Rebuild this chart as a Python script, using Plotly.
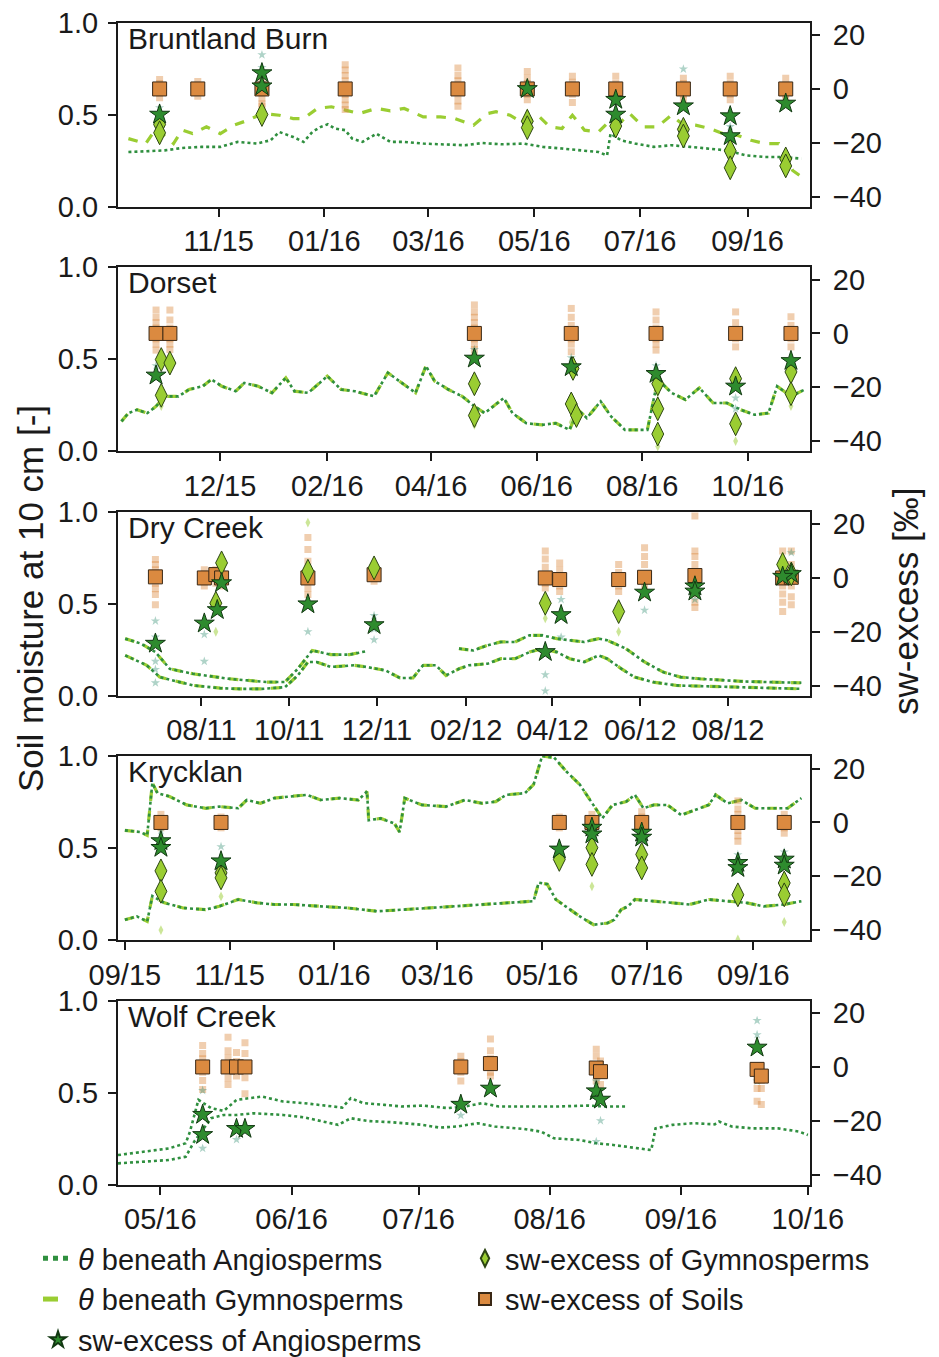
import pandas as pd
import plotly.graph_objects as go

# ---------------------------------------------------------------- data
# Bruntland Burn (line days counted from BB_origin)
BB_origin = "2015-09-01"
BB_theta_angio_days = [9, 19, 30, 40, 51, 62, 72, 83, 91, 96, 104, 110, 115, 120, 124, 128, 134, 138, 144, 152,
                       160, 168, 179, 189, 203, 213, 224, 237, 248, 259, 269, 280, 285, 287, 293, 301, 312, 322,
                       333, 344, 354, 365, 376, 386, 397]
BB_theta_angio = [0.296, 0.302, 0.305, 0.318, 0.324, 0.324, 0.351, 0.342, 0.360, 0.405, 0.378, 0.351, 0.405, 0.433,
                  0.447, 0.424, 0.415, 0.369, 0.351, 0.396, 0.351, 0.351, 0.342, 0.338, 0.333, 0.345, 0.338, 0.342,
                  0.324, 0.315, 0.305, 0.296, 0.278, 0.396, 0.360, 0.342, 0.324, 0.333, 0.324, 0.315, 0.305, 0.278,
                  0.269, 0.269, 0.260]
BB_theta_gymno_days = [9, 19, 25, 35, 40, 46, 54, 62, 70, 78, 86, 96, 104, 110, 118, 126, 134, 142, 152, 160, 168,
                       179, 189, 197, 208, 216, 221, 229, 237, 245, 252, 259, 265, 272, 280, 285, 293, 298, 306, 314,
                       322, 328, 336, 344, 352, 360, 368, 376, 384, 392, 400]
BB_theta_gymno = [0.369, 0.342, 0.424, 0.342, 0.415, 0.396, 0.433, 0.396, 0.442, 0.469, 0.505, 0.496, 0.478, 0.478,
                  0.533, 0.542, 0.524, 0.505, 0.533, 0.520, 0.533, 0.487, 0.487, 0.478, 0.442, 0.505, 0.515, 0.496,
                  0.451, 0.496, 0.433, 0.424, 0.496, 0.415, 0.405, 0.451, 0.460, 0.505, 0.433, 0.433, 0.496, 0.451,
                  0.442, 0.424, 0.396, 0.387, 0.360, 0.342, 0.342, 0.196, 0.142]
BB_campaigns = ["2015-09-28", "2015-10-20", "2015-11-26", "2016-01-13", "2016-03-18", "2016-04-27", "2016-05-23",
                "2016-06-17", "2016-07-26", "2016-08-22", "2016-09-23"]
BB_soil = [0, 0, 0, 0, 0, 0, 0, 0, 0, 0, 0]
BB_soil_ind = [[3.5, 2.0, 0.5, -1.5, -3.3], [2.8, 1.2, -1.0, -2.7], [2.8, -1.5, -3.5, -5.5, -6.4],
               [9, 7, 5, 3, -2, -4, -6, -7.6], [7.8, 5, 3, -2, -4.5, -6.4], [6.5, 4, 2, -2, -4], [4.7, 2.5, -2, -5],
               [4.7, 2, -2, -4], [4, 2, -2, -4], [4.7, 2, -2, -4], [4, 1.5, -2, -4]]
BB_angio_dates = ["2015-09-28", "2015-11-26", "2015-11-26", "2016-04-27", "2016-06-17", "2016-06-17", "2016-07-26",
                  "2016-08-22", "2016-08-22", "2016-09-23"]
BB_angio = [-9.5, 5.9, 1.0, 0.0, -4.0, -9.5, -6.4, -10.1, -17.5, -5.4]
BB_gymno_dates = ["2015-09-28", "2015-09-28", "2015-11-26", "2016-04-27", "2016-04-27", "2016-06-17", "2016-07-26",
                  "2016-07-26", "2016-08-22", "2016-08-22", "2016-09-23", "2016-09-23"]
BB_gymno = [-13.2, -16.3, -9.5, -12.0, -14.4, -13.8, -15.0, -17.5, -23.0, -29.3, -26.0, -28.6]
BB_angio_ind_dates = ["2015-11-26", "2015-11-26", "2016-07-26", "2016-06-17", "2016-08-22", "2015-09-28"]
BB_angio_ind = [12.7, 8.0, 7.4, -2.0, -14.0, -7.0]
BB_gymno_ind_dates = ["2015-09-28", "2016-04-27", "2016-06-17", "2016-08-22", "2016-09-23", "2016-09-23", "2015-11-26"]
BB_gymno_ind = [-11.0, -9.0, -16.0, -32.0, -24.0, -31.0, -7.0]

# Dorset
DO_origin = "2015-10-01"
DO_theta_days = [4, 8, 13, 19, 24, 29, 37, 43, 51, 56, 62, 70, 75, 83, 91, 99, 104, 112, 123, 131, 139, 150, 158,
                 166, 174, 180, 185, 193, 201, 208, 214, 225, 230, 238, 247, 255, 263, 268, 273, 281, 287, 295, 308,
                 314, 322, 330, 338, 346, 354, 362, 370, 378, 383, 391, 399]
DO_theta = [0.161, 0.206, 0.224, 0.206, 0.243, 0.297, 0.297, 0.334, 0.352, 0.389, 0.352, 0.325, 0.370, 0.352, 0.316,
            0.398, 0.325, 0.316, 0.407, 0.334, 0.325, 0.297, 0.425, 0.370, 0.316, 0.462, 0.380, 0.334, 0.297, 0.243,
            0.206, 0.288, 0.206, 0.151, 0.142, 0.151, 0.115, 0.224, 0.179, 0.270, 0.188, 0.115, 0.115, 0.389, 0.316,
            0.279, 0.343, 0.261, 0.261, 0.224, 0.197, 0.206, 0.352, 0.297, 0.334]
DO_campaigns = ["2015-10-25", "2015-11-02", "2016-04-26", "2016-06-21", "2016-08-09", "2016-09-24", "2016-10-26"]
DO_soil = [0, 0, 0, 0, 0, 0, 0]
DO_soil_ind = [[8.7, 6, 4, 2, -2, -4, -6.2], [8.7, 5, 2, -2, -4, -6], [10.6, 8, 6, 4, 2, -2, -4, -6, -8.7],
               [9.3, 6, 3, -2, -4, -6.8], [8, 5, 2, -2, -4, -6.2], [8, 4, -2, -5], [6.2, 3, -2, -5]]
DO_angio_dates = ["2015-10-25", "2016-04-26", "2016-06-21", "2016-08-09", "2016-09-24", "2016-10-26"]
DO_angio = [-15.6, -9.3, -12.5, -15.0, -19.7, -10.2]
DO_gymno_dates = ["2015-10-28", "2015-10-28", "2015-11-02", "2016-04-26", "2016-04-26", "2016-06-22", "2016-06-21",
                  "2016-06-24", "2016-08-10", "2016-08-10", "2016-08-10", "2016-09-24", "2016-09-24", "2016-10-26",
                  "2016-10-26"]
DO_gymno = [-9.7, -23.0, -11.0, -18.7, -30.5, -13.0, -26.2, -30.5, -18.7, -28.0, -37.4, -16.8, -33.6, -14.3, -22.4]
DO_angio_ind_dates = ["2015-10-25", "2016-04-26", "2016-06-21", "2016-08-09", "2016-09-24", "2016-09-24"]
DO_angio_ind = [-12.0, -6.0, -9.0, -12.0, -24.0, -28.0]
DO_gymno_ind_dates = ["2015-10-28", "2016-04-26", "2016-06-21", "2016-08-10", "2016-09-24", "2016-10-26",
                      "2016-08-10"]
DO_gymno_ind = [-27.0, -34.0, -33.0, -42.0, -40.0, -27.0, -22.0]

# Dry Creek
DC_origin = "2011-06-01"
DC_theta_upper_days = [8, 19, 29, 39, 55, 71, 80, 93, 106, 119, 128, 138, 151, 164, 175, 200, 240, 250, 260, 269,
                       279, 289, 298, 308, 317, 327, 337, 343, 356, 369, 382, 394, 407, 423, 439, 455, 478]
DC_theta_upper = [0.309, 0.282, 0.236, 0.145, 0.118, 0.100, 0.091, 0.082, 0.073, 0.073, 0.145, 0.245, 0.222, 0.222,
                  0.240, None, 0.255, 0.245, 0.273, 0.291, 0.291, 0.327, 0.327, 0.309, 0.300, 0.291, 0.309, 0.300,
                  0.255, 0.182, 0.127, 0.100, 0.091, 0.082, 0.076, 0.073, 0.069]
DC_theta_lower_days = [8, 23, 32, 55, 74, 87, 103, 119, 128, 135, 141, 151, 167, 176, 189, 199, 208, 215, 224, 231,
                       240, 247, 260, 269, 279, 289, 298, 308, 317, 327, 337, 343, 353, 362, 375, 391, 407, 439, 478]
DC_theta_lower = [0.218, 0.164, 0.100, 0.055, 0.040, 0.036, 0.036, 0.045, 0.109, 0.182, 0.182, 0.155, 0.164, 0.155,
                  0.136, 0.095, 0.095, 0.164, 0.164, 0.109, 0.145, 0.164, 0.173, 0.200, 0.200, 0.236, 0.255, 0.236,
                  0.200, 0.182, 0.218, 0.200, 0.145, 0.100, 0.073, 0.055, 0.051, 0.045, 0.036]
DC_campaigns = ["2011-06-30", "2011-08-03", "2011-08-11", "2011-08-15", "2011-10-14", "2011-11-29", "2012-03-27",
                "2012-04-06", "2012-05-17", "2012-06-04", "2012-07-09", "2012-09-08", "2012-09-14"]
DC_soil = [0.4, 0.0, 1.25, 0.0, 0.0, 1.2, 0.0, -0.6, -0.6, 0.25, 0.9, 0.0, 0.25]
DC_soil_ind = [[6.9, 5, 3, -2, -4, -6.2, -10], [3, 1.5, -1.5, -3], [3, 1, -2], [3, 1.5, -1.5, -3],
               [15, 10.6, 6.2, -3.75, -6.2, -10], [3, -1.2], [10, 7, 4, -2, -3.75], [5.6, 3, -3, -5], [5, 2, -3, -5],
               [11.25, 8, 5, -3, -6.25], [23, 10, 8, 5, -3, -6, -9, -11], [10, 6, 3, -3, -6, -9, -12.5],
               [10, 5, -3, -7, -10]]
DC_angio_dates = ["2011-06-30", "2011-08-03", "2011-08-12", "2011-08-15", "2011-10-14", "2011-11-29", "2012-03-27",
                  "2012-04-07", "2012-06-04", "2012-07-09", "2012-07-09", "2012-09-14", "2012-09-08"]
DC_angio = [-24.4, -16.9, -11.9, -1.9, -9.75, -17.5, -27.5, -13.75, -5.4, -3.1, -5.0, 1.5, 0.5]
DC_gymno_dates = ["2011-08-11", "2011-08-15", "2011-10-14", "2011-11-29", "2012-03-27", "2012-05-17", "2012-09-08",
                  "2012-09-14"]
DC_gymno = [-9.4, 5.6, 2.5, 3.75, -9.4, -12.5, 5.0, 1.5]
DC_angio_ind_dates = ["2011-06-30", "2011-06-30", "2011-06-30", "2011-06-30", "2011-06-30", "2011-08-03",
                      "2011-08-03", "2011-10-14", "2011-11-29", "2011-11-29", "2011-11-29", "2012-03-27",
                      "2012-03-27", "2012-04-07", "2012-04-07", "2012-06-04", "2012-07-09", "2012-09-14"]
DC_angio_ind = [-16, -22, -31, -34, -39, -21, -31, -20, -14, -19, -23, -36, -42, -8, -22, -12, -8, 9.4]
DC_gymno_ind_dates = ["2011-10-14", "2011-08-11", "2012-05-17", "2012-03-27", "2012-09-08"]
DC_gymno_ind = [20.6, -20.0, -20.0, -15.0, 8.0]

# Krycklan
KR_origin = "2015-09-01"
KR_theta_upper_days = [0, 9, 13, 16, 19, 26, 36, 47, 55, 66, 71, 79, 87, 98, 106, 114, 125, 136, 141, 142, 149, 157,
                       160, 163, 173, 187, 198, 208, 216, 222, 233, 238, 243, 250, 257, 265, 273, 278, 284, 292, 297,
                       302, 308, 316, 324, 332, 340, 344, 351, 359, 367, 378, 386, 394]
KR_theta_upper = [0.596, 0.587, 0.569, 0.853, 0.798, 0.780, 0.734, 0.716, 0.725, 0.716, 0.761, 0.743, 0.771, 0.780,
                  0.789, 0.761, 0.771, 0.761, 0.807, 0.651, 0.661, 0.633, 0.587, 0.771, 0.734, 0.725, 0.761, 0.743,
                  0.752, 0.789, 0.798, 0.844, 1.000, 0.991, 0.917, 0.844, 0.734, 0.661, 0.734, 0.752, 0.789, 0.716,
                  0.734, 0.734, 0.679, 0.706, 0.734, 0.789, 0.743, 0.761, 0.716, 0.716, 0.716, 0.771]
KR_theta_lower_days = [0, 7, 13, 16, 23, 34, 47, 55, 66, 77, 87, 98, 114, 130, 147, 163, 179, 195, 211, 222, 238,
                       241, 246, 251, 259, 265, 273, 281, 285, 289, 293, 297, 308, 319, 329, 340, 351, 362, 372, 384,
                       394]
KR_theta_lower = [0.110, 0.128, 0.101, 0.239, 0.202, 0.174, 0.165, 0.183, 0.220, 0.202, 0.193, 0.193, 0.183, 0.174,
                  0.156, 0.165, 0.174, 0.183, 0.193, 0.202, 0.211, 0.312, 0.303, 0.220, 0.165, 0.128, 0.083, 0.092,
                  0.110, 0.165, 0.183, 0.220, 0.211, 0.202, 0.193, 0.220, 0.211, 0.202, 0.183, 0.193, 0.211]
KR_campaigns = ["2015-09-22", "2015-10-27", "2016-05-11", "2016-05-30", "2016-06-28", "2016-08-23", "2016-09-19"]
KR_soil = [0, 0, 0, 0, 0, 0, 0]
KR_soil_ind = [[3, 1.5, -2], [2, -2], [2, -2], [3, -2], [4, 2, -3], [8, 5, 3, -3, -5, -7], [3, -2, -4]]
KR_angio_dates = ["2015-09-22", "2015-09-22", "2015-10-27", "2016-05-11", "2016-05-30", "2016-05-30", "2016-06-28",
                  "2016-06-28", "2016-08-23", "2016-08-23", "2016-09-19", "2016-09-19"]
KR_angio = [-6.9, -9.4, -14.4, -10.0, -1.9, -4.4, -3.75, -5.6, -15.0, -16.9, -13.75, -16.0]
KR_gymno_dates = ["2015-09-22", "2015-09-22", "2015-10-27", "2015-10-27", "2016-05-11", "2016-05-30", "2016-05-30",
                  "2016-06-28", "2016-06-28", "2016-08-23", "2016-09-19", "2016-09-19"]
KR_gymno = [-18.0, -25.6, -18.75, -20.6, -13.75, -9.4, -15.6, -11.9, -16.9, -26.9, -22.5, -26.9]
KR_angio_ind_dates = ["2015-09-22", "2015-10-27", "2016-08-23", "2016-09-19", "2016-06-28"]
KR_angio_ind = [-3.0, -9.0, -12.0, -11.0, -1.0]
KR_gymno_ind_dates = ["2015-09-22", "2015-10-27", "2016-05-30", "2016-08-23", "2016-09-19"]
KR_gymno_ind = [-40.0, -27.5, -23.75, -43.5, -37.0]

# Wolf Creek
WC_origin = "2016-04-01"
WC_theta_upper_days = [20, 26, 32, 36, 37, 39, 42, 45, 48, 54, 59, 64, 70, 73, 75, 78, 83, 87, 92, 98, 102, 106, 110,
                       116, 124, 131, 135, 140]
WC_theta_upper = [0.160, 0.178, 0.196, 0.224, 0.287, 0.460, 0.415, 0.400, 0.460, 0.478, 0.451, 0.442, 0.424, 0.418,
                  0.469, 0.442, 0.433, 0.424, 0.429, 0.415, 0.424, 0.442, 0.424, 0.424, 0.424, 0.429, 0.424, 0.424]
WC_theta_lower_days = [20, 26, 32, 36, 38, 42, 45, 48, 52, 59, 64, 72, 75, 79, 85, 92, 96, 100, 105, 109, 116, 120,
                       123, 129, 133, 137, 142, 146, 147, 151, 156, 161, 162, 165, 170, 176, 181, 183]
WC_theta_lower = [0.115, 0.124, 0.133, 0.151, 0.233, 0.360, 0.378, 0.378, 0.387, 0.378, 0.365, 0.324, 0.360, 0.345,
                  0.338, 0.324, 0.309, 0.315, 0.333, 0.315, 0.302, 0.287, 0.251, 0.242, 0.224, 0.215, 0.200, 0.187,
                  0.305, 0.324, 0.333, 0.327, 0.342, 0.315, 0.305, 0.305, 0.287, 0.269]
WC_campaigns = ["2016-05-11", "2016-05-17", "2016-05-19", "2016-05-21", "2016-07-11", "2016-07-18", "2016-08-12",
                "2016-08-13", "2016-09-19", "2016-09-20"]
WC_soil = [0.0, 0.0, 0.0, 0.0, 0.0, 1.25, -0.4, -1.75, -0.9, -3.4]
WC_soil_ind = [[8, 5, 3, -2, -5, -8.4], [11, 6, 3.5, -4, -6.5], [5.4, 2, -3.4], [9, 5, -4, -10], [4, 2, -2, -5.25],
               [10.4, 6, 3, -2, -3.4], [6.6, 4, -2, -5.25], [2.25, -3, -6.5], [-1.5, -5, -8, -12.75], [-5, -8, -14]]
WC_angio_dates = ["2016-05-11", "2016-05-11", "2016-05-19", "2016-05-21", "2016-07-11", "2016-07-18", "2016-08-12",
                  "2016-08-13", "2016-09-19"]
WC_angio = [-17.75, -25.25, -23.0, -23.0, -14.0, -8.0, -9.0, -12.1, 7.25]
WC_angio_ind_dates = ["2016-05-11", "2016-05-11", "2016-05-19", "2016-08-12", "2016-08-12", "2016-08-13",
                      "2016-09-19", "2016-09-19", "2016-09-19", "2016-09-19", "2016-07-11"]
WC_angio_ind = [-8.75, -30.25, -27.0, -27.75, -5.25, -20.0, 17.25, 12.0, -1.5, -5.25, -18.0]

# axis settings
SITE_NAMES = ["Bruntland Burn", "Dorset", "Dry Creek", "Krycklan", "Wolf Creek"]
X_RANGES = [["2015-09-04", "2016-10-07"], ["2015-10-03", "2016-11-06"], ["2011-06-04", "2012-09-27"],
            ["2015-08-28", "2016-10-04"], ["2016-04-21", "2016-10-01 12:00"]]
X_TICK0 = ["2015-11-01", "2015-12-01", "2011-08-01", "2015-09-01", "2016-05-01"]
X_DTICK = ["M2", "M2", "M2", "M2", "M1"]
SM_TICKS = [0.0, 0.5, 1.0]
SM_TICKTEXT = ["0.0", "0.5", "1.0"]
SW_TICKS = [-40, -20, 0, 20]
SW_RANGE = [-43.7, 24.7]

# ---------------------------------------------------------------- styling
FONT = "Liberation Sans, Arial, Helvetica, sans-serif"
PAGE_W, PAGE_H = 939, 1357
BODY = 8                      # default page margin around the plot div
W, H = PAGE_W - BODY, PAGE_H - BODY


def px_x(p):
    return (p - BODY) / W


def px_y(p):
    return 1 - (p - BODY) / H


X_LEFT, X_RIGHT = 118, 810
PANEL_TOPS = [22.5, 267, 511.5, 756, 1000.5]
PANEL_H = 184

SOIL_C, SOIL_E = "#DB8A40", "#3a2815"
GYM_C, GYM_E = "#9ACD32", "#2c4512"
ANG_C, ANG_E = "#2E8B2E", "#123812"
DOT_C = "#2f8f3f"
DASH_C = "#9ACD32"


def to_dates(origin, days):
    base = pd.Timestamp(origin)
    return [(base + pd.Timedelta(days=d)).strftime("%Y-%m-%d") for d in days]


fig = go.Figure()


def ax_ids(k):
    xa = "x" if k == 1 else f"x{k}"
    yl = "y" if k == 1 else f"y{2 * k - 1}"
    yr = f"y{2 * k}"
    return xa, yl, yr


def add_line(k, x, y, kind, legend=False):
    xa, yl, _ = ax_ids(k)
    if kind == "angio":
        line = dict(color=DOT_C, width=2.6, dash="dot")
        name, rank = "<i>θ</i> beneath Angiosperms", 1
    else:
        line = dict(color=DASH_C, width=3.2, dash="dash")
        name, rank = "<i>θ</i> beneath Gymnosperms", 3
    fig.add_trace(go.Scatter(x=x, y=y, mode="lines", line=line, name=name, legendgroup=name,
                             showlegend=legend, legendrank=rank, connectgaps=False,
                             xaxis=xa, yaxis=yl, hoverinfo="skip"))


def add_ind(k, x, y, color, symbol):
    xa, _, yr = ax_ids(k)
    fig.add_trace(go.Scatter(x=x, y=y, mode="markers", showlegend=False,
                             marker=dict(symbol=symbol, size=7, color=color, line=dict(width=0)),
                             xaxis=xa, yaxis=yr, hoverinfo="skip"))


def add_soil_ind(k, dates, ind):
    xs, ys = [], []
    for d, vals in zip(dates, ind):
        for v in vals:
            xs.append(d)
            ys.append(v)
    add_ind(k, xs, ys, "rgba(219,138,64,0.42)", "square")


def add_means(k, x, y, kind, legend=False):
    xa, _, yr = ax_ids(k)
    if kind == "soil":
        mk = dict(symbol="square", size=14, color=SOIL_C, line=dict(color=SOIL_E, width=1))
        name, rank = "sw-excess of Soils", 4
    elif kind == "gymno":
        mk = dict(symbol="diamond-tall", size=17, color=GYM_C, line=dict(color=GYM_E, width=1))
        name, rank = "sw-excess of Gymnosperms", 2
    else:
        mk = dict(symbol="star", size=15, color=ANG_C, line=dict(color=ANG_E, width=1))
        name, rank = "sw-excess of Angiosperms", 5
    fig.add_trace(go.Scatter(x=x, y=y, mode="markers", marker=mk, name=name, legendgroup=name,
                             showlegend=legend, legendrank=rank, xaxis=xa, yaxis=yr, hoverinfo="skip"))


ANG_IND_C = "rgba(46,139,110,0.38)"
GYM_IND_C = "rgba(154,205,50,0.5)"

# Panel 1: Bruntland Burn
add_line(1, to_dates(BB_origin, BB_theta_angio_days), BB_theta_angio, "angio", legend=True)
add_line(1, to_dates(BB_origin, BB_theta_gymno_days), BB_theta_gymno, "gymno", legend=True)
add_soil_ind(1, BB_campaigns, BB_soil_ind)
add_ind(1, BB_angio_ind_dates, BB_angio_ind, ANG_IND_C, "star")
add_ind(1, BB_gymno_ind_dates, BB_gymno_ind, GYM_IND_C, "diamond-tall")
add_means(1, BB_campaigns, BB_soil, "soil", legend=True)
add_means(1, BB_gymno_dates, BB_gymno, "gymno", legend=True)
add_means(1, BB_angio_dates, BB_angio, "angio", legend=True)

# Panel 2: Dorset
do_x = to_dates(DO_origin, DO_theta_days)
add_line(2, do_x, DO_theta, "gymno")
add_line(2, do_x, DO_theta, "angio")
add_soil_ind(2, DO_campaigns, DO_soil_ind)
add_ind(2, DO_angio_ind_dates, DO_angio_ind, ANG_IND_C, "star")
add_ind(2, DO_gymno_ind_dates, DO_gymno_ind, GYM_IND_C, "diamond-tall")
add_means(2, DO_campaigns, DO_soil, "soil")
add_means(2, DO_gymno_dates, DO_gymno, "gymno")
add_means(2, DO_angio_dates, DO_angio, "angio")

# Panel 3: Dry Creek
for days, vals in [(DC_theta_upper_days, DC_theta_upper), (DC_theta_lower_days, DC_theta_lower)]:
    dx = to_dates(DC_origin, days)
    add_line(3, dx, vals, "gymno")
    add_line(3, dx, vals, "angio")
add_soil_ind(3, DC_campaigns, DC_soil_ind)
add_ind(3, DC_angio_ind_dates, DC_angio_ind, ANG_IND_C, "star")
add_ind(3, DC_gymno_ind_dates, DC_gymno_ind, GYM_IND_C, "diamond-tall")
add_means(3, DC_campaigns, DC_soil, "soil")
add_means(3, DC_gymno_dates, DC_gymno, "gymno")
add_means(3, DC_angio_dates, DC_angio, "angio")

# Panel 4: Krycklan
for days, vals in [(KR_theta_upper_days, KR_theta_upper), (KR_theta_lower_days, KR_theta_lower)]:
    dx = to_dates(KR_origin, days)
    add_line(4, dx, vals, "gymno")
    add_line(4, dx, vals, "angio")
add_soil_ind(4, KR_campaigns, KR_soil_ind)
add_ind(4, KR_angio_ind_dates, KR_angio_ind, ANG_IND_C, "star")
add_ind(4, KR_gymno_ind_dates, KR_gymno_ind, GYM_IND_C, "diamond-tall")
add_means(4, KR_campaigns, KR_soil, "soil")
add_means(4, KR_gymno_dates, KR_gymno, "gymno")
add_means(4, KR_angio_dates, KR_angio, "angio")

# Panel 5: Wolf Creek
for days, vals in [(WC_theta_upper_days, WC_theta_upper), (WC_theta_lower_days, WC_theta_lower)]:
    add_line(5, to_dates(WC_origin, days), vals, "angio")
add_soil_ind(5, WC_campaigns, WC_soil_ind)
add_ind(5, WC_angio_ind_dates, WC_angio_ind, ANG_IND_C, "star")
add_means(5, WC_campaigns, WC_soil, "soil")
add_means(5, WC_angio_dates, WC_angio, "angio")

# ---------------------------------------------------------------- layout
TICKFONT = dict(family=FONT, size=29, color="#1a1a1a")
layout = dict(
    width=W, height=H, margin=dict(l=0, r=0, t=0, b=0, autoexpand=False),
    paper_bgcolor="white", plot_bgcolor="white",
    font=dict(family=FONT, color="#1a1a1a"),
    showlegend=True,
    legend=dict(orientation="h", x=px_x(38), xanchor="left", y=px_y(1233), yanchor="top",
                entrywidth=382, entrywidthmode="pixels", font=dict(family=FONT, size=29, color="#1a1a1a"),
                itemsizing="constant", bgcolor="rgba(0,0,0,0)", tracegroupgap=0, traceorder="normal"),
    annotations=[],
)
xdom = [px_x(X_LEFT), px_x(X_RIGHT)]
for i in range(5):
    k = i + 1
    top = PANEL_TOPS[i]
    ydom = [px_y(top + PANEL_H), px_y(top)]
    xkey = "xaxis" if k == 1 else f"xaxis{k}"
    ylkey = "yaxis" if k == 1 else f"yaxis{2 * k - 1}"
    yrkey = f"yaxis{2 * k}"
    xa, yl, yr = ax_ids(k)
    common = dict(ticks="outside", ticklen=8, tickwidth=2, tickcolor="#1a1a1a", showline=True,
                  linecolor="#1a1a1a", linewidth=2, showgrid=False, zeroline=False, tickfont=TICKFONT,
                  automargin=False, ticklabeloverflow="allow")
    layout[xkey] = dict(domain=xdom, anchor=yl, type="date", range=X_RANGES[i], tick0=X_TICK0[i],
                        dtick=X_DTICK[i], tickformat="%m/%y", mirror=True, ticklabelstandoff=0, **common)
    layout[ylkey] = dict(domain=ydom, anchor=xa, range=[0, 1], tickvals=SM_TICKS, ticktext=SM_TICKTEXT,
                         ticklabelstandoff=4, **common)
    layout[yrkey] = dict(domain=ydom, anchor=xa, overlaying=yl, side="right", range=SW_RANGE,
                         tickvals=SW_TICKS, ticklabelstandoff=7, **common)
    layout["annotations"].append(dict(text=SITE_NAMES[i], xref="paper", yref="paper", x=px_x(126),
                                      y=px_y(top + 16), xanchor="left", yanchor="middle", showarrow=False,
                                      font=dict(family=FONT, size=30, color="#1a1a1a")))

layout["annotations"].append(dict(text="Soil moisture at 10 cm [-]", xref="paper", yref="paper", x=px_x(30),
                                  y=px_y(599), xanchor="center", yanchor="middle", textangle=-90,
                                  showarrow=False, font=dict(family=FONT, size=35, color="#1a1a1a")))
layout["annotations"].append(dict(text="sw-excess [‰]", xref="paper", yref="paper", x=px_x(905),
                                  y=px_y(601), xanchor="center", yanchor="middle", textangle=-90,
                                  showarrow=False, font=dict(family=FONT, size=35, color="#1a1a1a")))

fig.update_layout(**layout)
fig.write_html("out.html")
